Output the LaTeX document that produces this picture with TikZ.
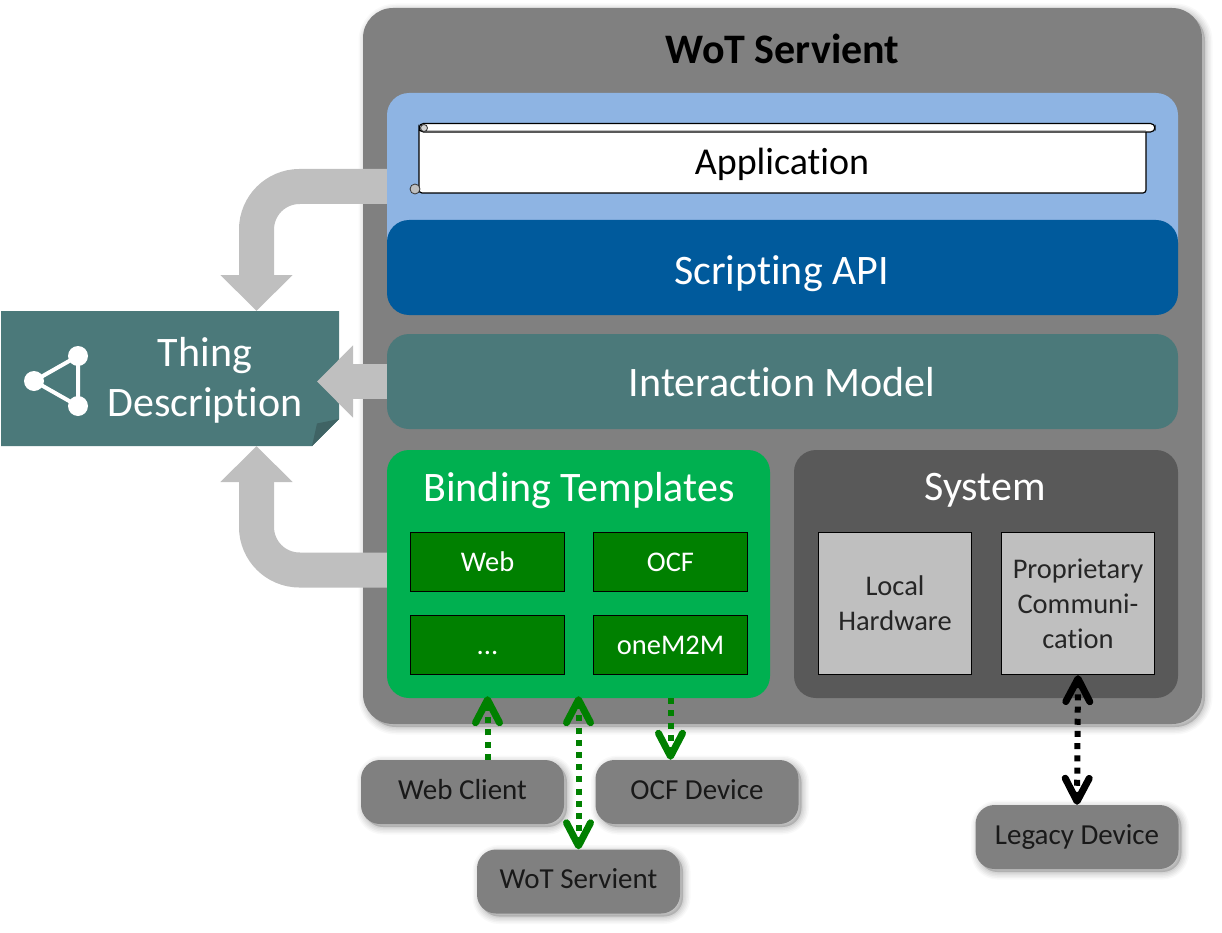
\documentclass[tikz,border=0pt]{standalone}
\usepackage{fontspec}
\setmainfont[Ligatures=NoCommon]{Carlito}
\usetikzlibrary{arrows.meta,shadows}
\definecolor{outergray}{HTML}{808080}
\definecolor{appblue}{HTML}{8EB4E3}
\definecolor{apiblue}{HTML}{005A9C}
\definecolor{tdteal}{HTML}{4B797A}
\definecolor{tdfold}{HTML}{3F6364}
\definecolor{bindgreen}{HTML}{00B050}
\definecolor{linkgreen}{HTML}{008000}
\definecolor{sysgray}{HTML}{595959}
\definecolor{partgray}{HTML}{BFBFBF}
\newcommand{\moretext}{...}
\tikzset{
    softshadow/.style={
        general shadow={shadow xshift=3pt,shadow yshift=-3pt,fill=black,draw=black,line width=15pt,opacity=.025},
        general shadow={shadow xshift=3pt,shadow yshift=-3pt,fill=black,draw=black,line width=12pt,opacity=.03},
        general shadow={shadow xshift=3pt,shadow yshift=-3pt,fill=black,draw=black,line width=9pt,opacity=.035},
        general shadow={shadow xshift=3pt,shadow yshift=-3pt,fill=black,draw=black,line width=6pt,opacity=.04},
        general shadow={shadow xshift=3pt,shadow yshift=-3pt,fill=black,draw=black,line width=3pt,opacity=.05}
    },
    block/.style={rectangle,inner sep=0pt,rounded corners=22pt},
    wideblock/.style={block,minimum width=791pt,minimum height=95pt},
    lowblock/.style={block,minimum height=248pt},
    blocktext/.style={text=white,inner sep=0pt,font=\fontsize{42}{50}\selectfont},
    bindbox/.style={rectangle,draw=black,line width=.8pt,fill=linkgreen,text=white,inner sep=0pt,
        minimum width=154pt,minimum height=59.5pt,text height=18pt,text depth=0pt,font=\fontsize{28.5}{34}\selectfont},
    partbox/.style={rectangle,draw=black,line width=.8pt,fill=partgray,text=black!85,inner sep=0pt,align=center,
        minimum width=153.5pt,minimum height=142.5pt,font=\fontsize{28.5}{35}\selectfont},
    device/.style={rectangle,rounded corners=19pt,fill=outergray,text=black!90,inner sep=0pt,softshadow,
        minimum width=203pt,minimum height=64pt,text height=20pt,text depth=6pt,font=\fontsize{29}{34}\selectfont},
    bigarrow/.style={draw=partgray,line width=35pt,rounded corners=43pt,
        -{Triangle[width=70pt,length=36pt,fill=partgray]}},
    hop/.style={line width=6pt,dash pattern=on 6pt off 6.2pt,
        {Straight Barb[width=24pt,length=23pt,line width=7pt,round,sep=0pt]}-{Straight Barb[width=24pt,length=23pt,line width=7pt,round,sep=0pt]}},
    hopin/.style={line width=6pt,dash pattern=on 6pt off 6.2pt,
        -{Straight Barb[width=24pt,length=23pt,line width=7pt,round,sep=0pt]}},
    tddot/.style={circle,fill=white,inner sep=0pt,minimum size=20pt}
}
\begin{document}
\begin{tikzpicture}[x=1pt,y=-1pt]
    \useasboundingbox (0,0) rectangle (1222,933);

    \node[rectangle,rounded corners=30pt,fill=outergray,softshadow,inner sep=0pt,minimum width=839pt,minimum height=716pt] (servient) at (782.5,366) {};
    \node[font=\fontsize{42}{50}\selectfont\bfseries,text=black,inner sep=0pt] (servienttitle) at (782.5,49) {WoT Servient};

    \fill[tdteal] (1,311) -- (339,311) -- (339,419) -- (312,446) -- (1,446) -- cycle;
    \fill[tdfold] (339,419) -- (317,423.5) -- (312,446) -- cycle;
    \node[text=white,align=center,inner sep=0pt,font=\fontsize{42}{50}\selectfont] (td) at (205,380.5) {Thing\\Description};
    \node[tddot] (tda) at (34,381) {};
    \node[tddot] (tdb) at (78,356) {};
    \node[tddot] (tdc) at (78,406) {};
    \draw[white,line width=4pt] (tda.center) -- (tdb.center) -- (tdc.center) -- cycle;

    \coordinate (appexit) at (387,186.5);
    \coordinate (bindexit) at (387,570);
    \coordinate (tdtop) at (256.5,311);
    \coordinate (tdbottom) at (256.5,446);
    \coordinate (tdright) at (317,381.5);
    \draw[bigarrow] (appexit) -| (tdtop);
    \draw[bigarrow] (bindexit) -| (tdbottom);
    \draw[bigarrow] (387,381.5) -- (tdright);

    \node[block,fill=appblue,minimum width=791pt,minimum height=172pt] (appback) at (782.5,179) {};
    \node[wideblock,fill=apiblue] (api) at (782.5,267.5) {};
    \node[blocktext] (apitext) at (781.5,274) {Scripting API};
    \node[wideblock,fill=tdteal] (imodel) at (782.5,381.5) {};
    \node[blocktext] (imodeltext) at (782,382) {Interaction Model};

    \draw[black,line width=1.2pt,fill=white,rounded corners=3pt] (419,128) -- (419,193) -- (1146,193) -- (1146,128) -- cycle;
    \draw[black,line width=1.2pt,fill=white,rounded corners=4.5pt] (419,123.5) rectangle (1155,132);
    \draw[partgray,line width=1pt] (424,131) -- (1146,131);
    \draw[black!80,line width=.8pt,fill=partgray!70] (424,128) circle (3.5pt);
    \draw[black!80,line width=.8pt,fill=partgray] (415,189) circle (5pt);
    \node[font=\fontsize{38}{46}\selectfont,text=black,inner sep=0pt] (app) at (782,164) {Application};

    \node[lowblock,fill=bindgreen,minimum width=383pt] (bind) at (578.5,574) {};
    \node[blocktext] (bindtitle) at (579,491) {Binding Templates};
    \foreach \px/\py/\lbl/\nm in {487.5/562/Web/web,670.5/562/OCF/ocf,487.5/645/\moretext/more,670.5/645/oneM2M/onem2m}
    {
        \node[bindbox] (\nm) at (\px,\py) {\lbl};
    }

    \node[lowblock,fill=sysgray,minimum width=384pt] (system) at (986,574) {};
    \node[blocktext] (systemtitle) at (985,490) {System};
    \node[partbox] (hardware) at (895,603.5) {Local\\Hardware};
    \node[partbox] (prop) at (1078,603.5) {Proprietary\\Communi-\\cation};

    \node[device] (webclient) at (462.5,792) {Web Client};
    \node[device] (ocfdevice) at (697,792) {OCF Device};
    \node[device] (wotdevice) at (578.5,881.5) {WoT Servient};
    \node[device] (legacy) at (1077,837) {Legacy Device};

    \draw[hopin,linkgreen] (webclient.north -| web.south) -- ([yshift=2pt]bind.south -| web.south);
    \draw[hop,linkgreen] ([yshift=2pt]bind.south) -- (wotdevice.north);
    \draw[hopin,linkgreen] (bind.south -| ocf.south) -- (ocfdevice.north -| ocf.south);
    \draw[hop,black] (prop.south) -- (legacy.north);
\end{tikzpicture}
\end{document}
